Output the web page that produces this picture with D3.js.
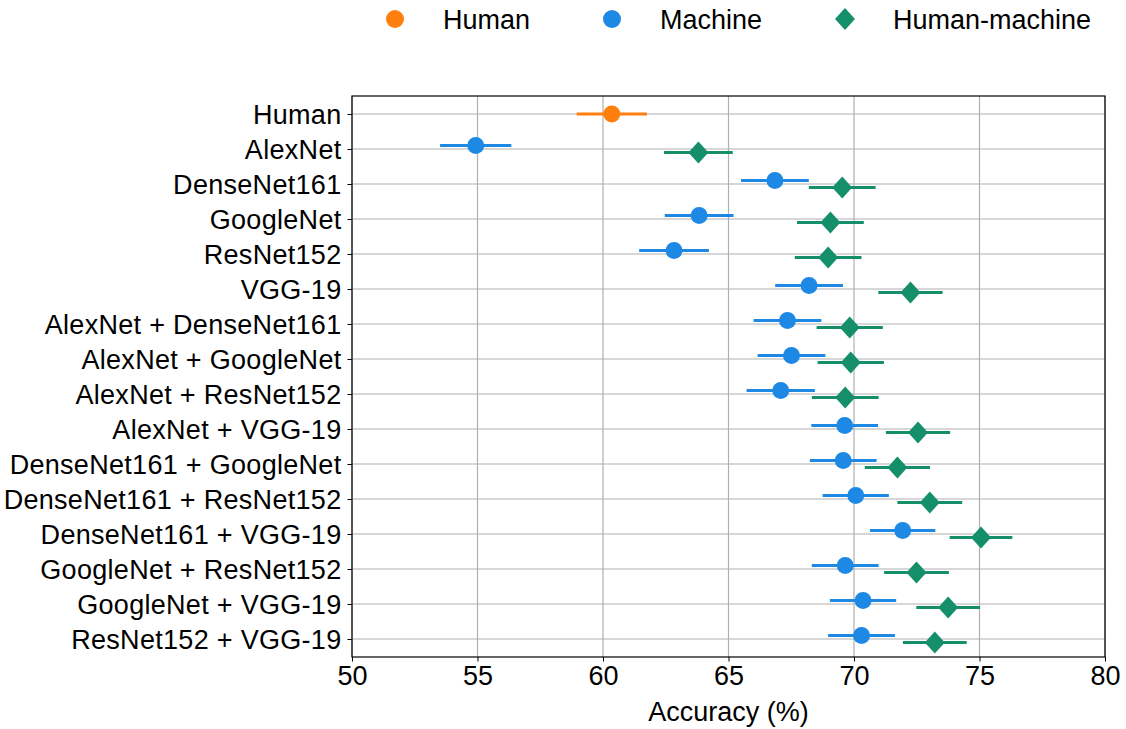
<!DOCTYPE html>
<html><head><meta charset="utf-8">
<script src="https://cdn.jsdelivr.net/npm/d3@7"></script>
<style>body{margin:0;background:#fff}svg{display:block}text{font-family:"Liberation Sans",Arial,sans-serif;fill:#000}</style>
</head><body><svg id="c" width="1126" height="729"></svg>
<script>
const categories = ["Human","AlexNet","DenseNet161","GoogleNet","ResNet152","VGG-19",
 "AlexNet + DenseNet161","AlexNet + GoogleNet","AlexNet + ResNet152","AlexNet + VGG-19",
 "DenseNet161 + GoogleNet","DenseNet161 + ResNet152","DenseNet161 + VGG-19",
 "GoogleNet + ResNet152","GoogleNet + VGG-19","ResNet152 + VGG-19"];
const humanMean = [60.35];
const humanErr = [1.40];
const machineCats = categories.slice(1);
const machineMean = [54.93,66.85,63.83,62.83,68.21,67.35,67.51,67.08,69.63,69.57,70.07,71.94,69.65,70.36,70.30];
const machineErr  = [1.42,1.35,1.37,1.39,1.35,1.35,1.35,1.36,1.33,1.33,1.32,1.30,1.33,1.32,1.33];
const hmMean = [63.80,69.53,69.06,68.97,72.25,69.83,69.87,69.65,72.55,71.73,73.02,75.06,72.49,73.75,73.22];
const hmErr  = [1.37,1.33,1.33,1.33,1.28,1.32,1.32,1.33,1.28,1.30,1.29,1.25,1.29,1.27,1.27];
const xTicks = [50,55,60,65,70,75,80];
const legendLabels = ["Human","Machine","Human-machine"];

const colors = {human:"#ff7f0e", machine:"#1e88e5", hm:"#148f69"};
const svg = d3.select("#c");
const L=352, R=1105, T=96, B=657;
const x = d3.scaleLinear().domain([50,80]).range([L,R]);
const y = d3.scalePoint().domain(categories).range([T,B]).padding(0.514);
const off = 3.5;
const FS = "27px";

// grid
const g = svg.append("g");
g.selectAll(".vg").data(xTicks).join("line")
  .attr("x1",d=>x(d)).attr("x2",d=>x(d)).attr("y1",T).attr("y2",B)
  .attr("stroke","#b0b0b0").attr("stroke-width",1.2);
g.selectAll(".hg").data(categories).join("line")
  .attr("x1",L).attr("x2",R).attr("y1",d=>y(d)).attr("y2",d=>y(d))
  .attr("stroke","#b0b0b0").attr("stroke-width",1.2);

// axes
const xAxis = svg.append("g").attr("transform",`translate(0,${B})`)
  .call(d3.axisBottom(x).tickValues(xTicks).tickSize(4.5).tickPadding(4).tickFormat(d3.format("d")));
const yAxis = svg.append("g").attr("transform",`translate(${L},0)`)
  .call(d3.axisLeft(y).tickSize(4.5).tickPadding(6));
[xAxis,yAxis].forEach(a=>{
  a.select(".domain").remove();
  a.selectAll("line").attr("stroke","#000").attr("stroke-width",1);
  a.selectAll("text").style("font-size",FS).attr("fill","#000");
});
yAxis.selectAll("text").attr("dy","0.35em").style("letter-spacing","0.3px");
svg.append("rect").attr("x",L).attr("y",T).attr("width",R-L).attr("height",B-T)
  .attr("fill","none").attr("stroke","#000").attr("stroke-width",1.2);

svg.append("text").attr("x",(L+R)/2).attr("y",721).attr("text-anchor","middle")
  .style("font-size",FS).text("Accuracy (%)");

// series
function errbars(data, color){
  svg.append("g").selectAll("line").data(data).join("line")
    .attr("x1",d=>x(d.m-d.e)).attr("x2",d=>x(d.m+d.e))
    .attr("y1",d=>y(d.c)+d.o).attr("y2",d=>y(d.c)+d.o)
    .attr("stroke",color).attr("stroke-width",3.2);
}
const hd = humanMean.map((m,i)=>({c:categories[0],m,e:humanErr[i],o:0}));
const md = machineCats.map((c,i)=>({c,m:machineMean[i],e:machineErr[i],o:-off}));
const hmd = machineCats.map((c,i)=>({c,m:hmMean[i],e:hmErr[i],o:off}));
errbars(hd,colors.human); errbars(md,colors.machine); errbars(hmd,colors.hm);
svg.append("g").selectAll("circle").data(hd).join("circle")
  .attr("cx",d=>x(d.m)).attr("cy",d=>y(d.c)+d.o).attr("r",8.5).attr("fill",colors.human);
svg.append("g").selectAll("circle").data(md).join("circle")
  .attr("cx",d=>x(d.m)).attr("cy",d=>y(d.c)+d.o).attr("r",8.5).attr("fill",colors.machine);
const dia = (cx,cy)=>`M${cx},${cy-11}L${cx+10},${cy}L${cx},${cy+11}L${cx-10},${cy}Z`;
svg.append("g").selectAll("path").data(hmd).join("path")
  .attr("d",d=>dia(x(d.m),y(d.c)+d.o)).attr("fill",colors.hm);

// legend
const lg = svg.append("g");
const lx = [395,612,845];
const lc = [colors.human,colors.machine,colors.hm];
legendLabels.forEach((t,i)=>{
  if(i<2) lg.append("circle").attr("cx",lx[i]).attr("cy",19).attr("r",9).attr("fill",lc[i]);
  else lg.append("path").attr("d",dia(lx[i],19)).attr("fill",lc[i]);
  lg.append("text").attr("x",lx[i]+48).attr("y",28.5).style("font-size",FS).text(t);
});
</script></body></html>
